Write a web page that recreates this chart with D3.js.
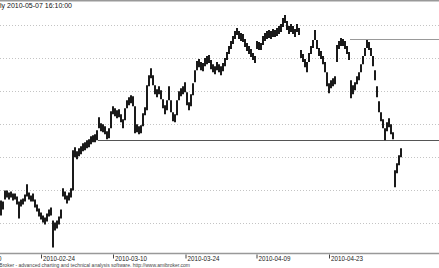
<!DOCTYPE html>
<html>
<head>
<meta charset="utf-8">
<script src="https://cdn.jsdelivr.net/npm/d3@7"></script>
<style>
  html, body { margin: 0; padding: 0; background: #fff; overflow: hidden; }
  svg { display: block; }
</style>
</head>
<body>
<script>
// Hourly bars, 2010-02-10 .. 2010-05-07 (one entry per bar, left to right)
const highs = [100,99,110,110,108,109,107,107,104,99,101,102,106,116,108,105,107,101,96,92,
  88,85,83,87,91,93,80,78,80,84,91,112,109,105,108,112,150,153,149,152,
  154,157,158,160,161,164,165,166,170,183,177,176,174,169,172,189,194,192,190,191,
  186,181,192,200,203,205,204,194,176,174,175,187,193,215,225,232,225,215,211,214,
  210,201,195,200,214,200,188,186,200,209,212,214,218,208,198,206,217,230,239,241,
  238,237,242,244,245,240,236,234,238,236,234,237,242,248,254,259,264,269,272,269,
  267,266,261,257,254,251,247,244,259,258,257,264,267,269,270,269,271,270,272,274,
  276,282,285,279,274,276,274,271,276,272,250,246,241,238,247,254,260,270,260,252,
  249,244,238,228,217,220,222,224,255,259,262,261,259,254,248,220,215,218,224,228,
  236,244,252,260,258,252,244,230,214,199,188,181,172,178,182,176,168,130,137,145,152];
const lows = [85,91,101,103,101,103,100,101,96,82,94,96,99,104,101,99,99,93,89,84,
  81,78,76,79,84,85,53,70,72,76,82,104,101,97,100,103,110,143,141,144,
  146,149,150,152,153,156,158,158,160,172,169,168,166,161,162,172,186,184,182,183,
  178,172,180,192,195,197,194,167,168,166,167,174,185,190,214,222,215,206,203,206,
  201,192,186,190,200,188,179,178,185,200,204,206,208,195,190,194,205,218,230,233,
  230,229,234,236,237,231,228,226,230,228,225,229,234,240,246,251,256,261,265,261,
  259,258,253,249,246,243,240,237,251,250,250,255,259,261,262,261,263,263,264,266,
  268,273,277,270,266,268,266,263,268,265,242,238,233,228,238,246,252,260,251,244,
  241,236,228,214,207,212,214,216,238,251,254,254,251,246,240,202,206,210,216,220,
  228,236,244,252,250,244,234,220,203,188,179,172,160,169,173,166,161,113,127,135,143];

// support / resistance lines drawn on the chart
const levels = [
  { price: 160, fromBar: 48.5, color: '#555' },
  { price: 261, fromBar: 174.5, color: '#999' }
];
// dotted grid levels
const gridLevels = [275, 242, 209, 176, 143, 110, 77];
// date labels and the bar they start at
const dateTicks = [
  { label: '2010-02-10', bar: -16.5 },
  { label: '2010-02-24', bar: 20.25 },
  { label: '2010-03-10', bar: 56.25 },
  { label: '2010-03-24', bar: 92.5 },
  { label: '2010-04-09', bar: 128 },
  { label: '2010-04-23', bar: 164.25 }
];
const title = 'Hourly 2010-05-07 16:10:00';
const credits = 'AmiBroker - advanced charting and technical analysis software. http://www.amibroker.com';

window.addEventListener('load', function() {
    let width = 439;
    let height = 268;
    let axisY = 253.5;

    let svg = d3.select('body').append('svg')
        .attr('width', width)
        .attr('height', height);

    let x = d3.scaleLinear().domain([0, highs.length - 1]).range([1, 401]);
    let y = d3.scaleLinear().domain([47, 300]).range([axisY, 0]);

    // top border
    svg.append('line')
        .attr('x1', 0).attr('x2', width)
        .attr('y1', 0.5).attr('y2', 0.5)
        .style('stroke', '#999').style('stroke-width', 2);

    // dotted grid
    svg.selectAll('.grid')
        .data(gridLevels)
        .join('line')
            .attr('class', 'grid')
            .attr('x1', 0).attr('x2', width)
            .attr('y1', (d) => Math.round(y(d)) + 0.5)
            .attr('y2', (d) => Math.round(y(d)) + 0.5)
            .style('stroke', '#c4c4c4')
            .style('stroke-dasharray', '1,2');

    // support / resistance
    svg.selectAll('.level')
        .data(levels)
        .join('line')
            .attr('class', 'level')
            .attr('x1', (d) => x(d.fromBar)).attr('x2', width)
            .attr('y1', (d) => Math.round(y(d.price)) + 0.5)
            .attr('y2', (d) => Math.round(y(d.price)) + 0.5)
            .style('stroke', (d) => d.color)
            .style('stroke-width', 1.2);

    // price bars (high - low), packed so neighbours touch
    svg.selectAll('.bar')
        .data(highs.map((h, i) => [h, lows[i]]))
        .join('line')
            .attr('class', 'bar')
            .attr('x1', (d, i) => x(i)).attr('x2', (d, i) => x(i))
            .attr('y1', (d) => y(d[0])).attr('y2', (d) => y(d[1]))
            .style('stroke', '#1a1a1a')
            .style('stroke-width', 2);

    // bottom axis
    svg.append('line')
        .attr('x1', 0).attr('x2', width)
        .attr('y1', axisY).attr('y2', axisY)
        .style('stroke', '#999').style('stroke-width', 1.5);

    let ticks = svg.selectAll('.tick')
        .data(dateTicks)
        .join('g')
            .attr('class', 'tick')
            .attr('transform', (d) => 'translate(' + x(d.bar) + ',0)');
    ticks.append('line')
        .attr('y1', axisY + 1).attr('y2', axisY + 5)
        .style('stroke', '#444');
    ticks.append('text')
        .attr('x', 1.5).attr('y', axisY + 7.5)
        .attr('textLength', 32)
        .attr('lengthAdjust', 'spacingAndGlyphs')
        .style('font', '7.5px Arial, "Liberation Sans", sans-serif')
        .style('fill', '#222')
        .text((d) => d.label);

    svg.append('text')
        .attr('x', 190).attr('y', 266.5)
        .attr('text-anchor', 'end')
        .style('font', '5px Arial, "Liberation Sans", sans-serif')
        .style('fill', '#444')
        .text(credits);

    svg.append('text')
        .attr('x', 72).attr('y', 8)
        .attr('text-anchor', 'end')
        .style('font', '7px Arial, "Liberation Sans", sans-serif')
        .style('fill', '#111')
        .text(title);
});
</script>
</body>
</html>
